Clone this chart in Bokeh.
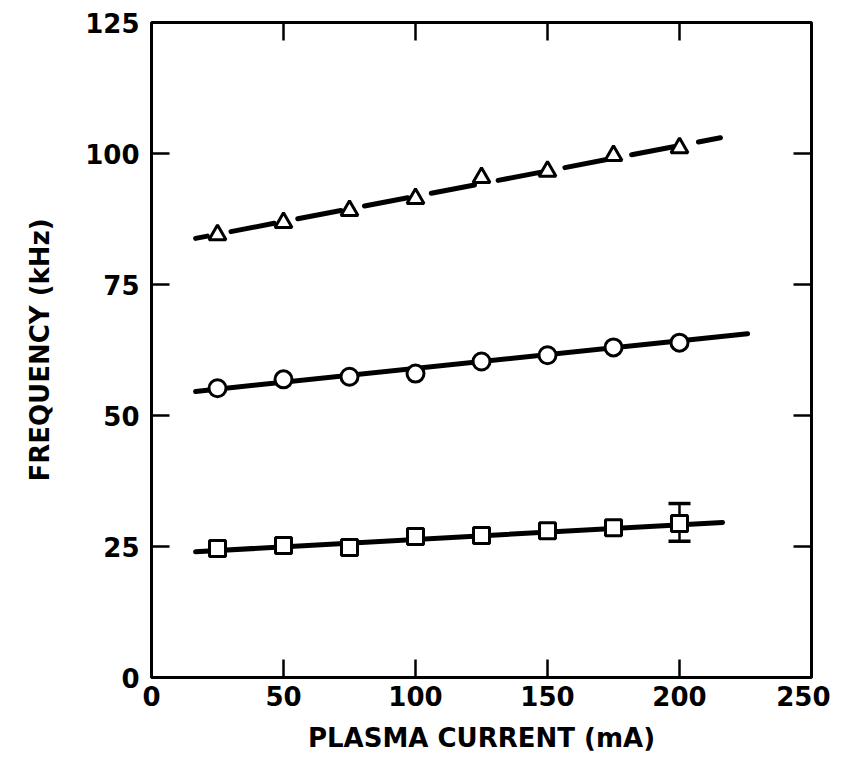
import math
from bokeh.plotting import figure
from bokeh.models import Range1d, FixedTicker, Whisker, TeeHead, ColumnDataSource
from bokeh.embed import file_html
from bokeh.resources import INLINE

# ---- data ----
current = [25, 50, 75, 100, 125, 150, 175, 200]
freq_tri = [84.5, 86.8, 89.1, 91.4, 95.4, 96.6, 99.6, 101.1]
freq_circ = [55.2, 56.9, 57.4, 58.0, 60.3, 61.5, 63.0, 63.9]
freq_sq = [24.6, 25.2, 24.8, 26.9, 27.1, 28.0, 28.6, 29.4]

err_x = [200]
err_upper = [33.2]
err_lower = [26.0]

fit_tri_x = [16.7, 215.5]
fit_tri_y = [83.8, 103.0]
fit_circ_x = [16.7, 225.8]
fit_circ_y = [54.6, 65.6]
fit_sq_x = [16.7, 216.3]
fit_sq_y = [24.0, 29.6]

x_ticks = [0, 50, 100, 150, 200, 250]
y_ticks = [0, 25, 50, 75, 100, 125]
x_min, x_max = 0, 250
y_min, y_max = 0, 125

FONT = "DejaVu Sans"

p = figure(width=830, height=760, output_backend="svg", toolbar_location=None,
           x_range=Range1d(x_min, x_max), y_range=Range1d(y_min, y_max),
           min_border_left=151, min_border_right=19, min_border_top=22, min_border_bottom=83)
p.grid.visible = False
p.outline_line_color = "black"
p.outline_line_width = 3
p.background_fill_color = "white"
p.border_fill_color = "white"

for ax in (p.xaxis[0], p.yaxis[0]):
    ax.major_tick_in = 18
    ax.major_tick_out = 0
    ax.minor_tick_in = 0
    ax.minor_tick_out = 0
    ax.major_tick_line_width = 2.5
    ax.axis_line_color = None
    ax.major_label_text_font = FONT
    ax.major_label_text_font_style = "bold"
    ax.major_label_text_font_size = "26px"
    ax.major_label_text_color = "black"
    ax.axis_label_text_font = FONT
    ax.axis_label_text_font_style = "bold"
    ax.axis_label_text_font_size = "26px"
    ax.axis_label_text_color = "black"

p.xaxis.ticker = FixedTicker(ticks=x_ticks)
p.yaxis.ticker = FixedTicker(ticks=y_ticks)
p.xaxis.axis_label = "PLASMA CURRENT (mA)"
p.yaxis.axis_label = "FREQUENCY (kHz)"
p.xaxis.major_label_standoff = 8
p.yaxis.major_label_standoff = 12
p.xaxis.axis_label_standoff = 14
p.yaxis.axis_label_standoff = 27

# mirrored inward ticks on top and right edges
inner_x = x_ticks[1:-1]
inner_y = y_ticks[1:-1]
p.ray(x=inner_x, y=[y_max] * len(inner_x), length=18, length_units="screen",
      angle=-math.pi / 2, line_color="black", line_width=2.5)
p.ray(x=[x_max] * len(inner_y), y=inner_y, length=18, length_units="screen",
      angle=math.pi, line_color="black", line_width=2.5)

# fit lines
p.line(fit_tri_x, fit_tri_y, line_color="black", line_width=5, line_dash="44 24",
       line_dash_offset=32, line_cap="round")
p.line(fit_circ_x, fit_circ_y, line_color="black", line_width=5, line_cap="round")
p.line(fit_sq_x, fit_sq_y, line_color="black", line_width=5, line_cap="round")

# error bar
src = ColumnDataSource(dict(x=err_x, upper=err_upper, lower=err_lower))
w = Whisker(base="x", upper="upper", lower="lower", source=src, line_width=2.5, line_color="black",
            upper_head=TeeHead(size=22, line_width=3.5, line_color="black"),
            lower_head=TeeHead(size=22, line_width=3.5, line_color="black"))
p.add_layout(w)

# markers
p.scatter(current, freq_tri, marker="triangle", size=17, fill_color="white",
          line_color="black", line_width=3)
p.scatter(current, freq_circ, marker="circle", size=17, fill_color="white",
          line_color="black", line_width=3)
p.scatter(current, freq_sq, marker="square", size=16, fill_color="white",
          line_color="black", line_width=3)

open("out.html", "w").write(file_html(p, INLINE))
